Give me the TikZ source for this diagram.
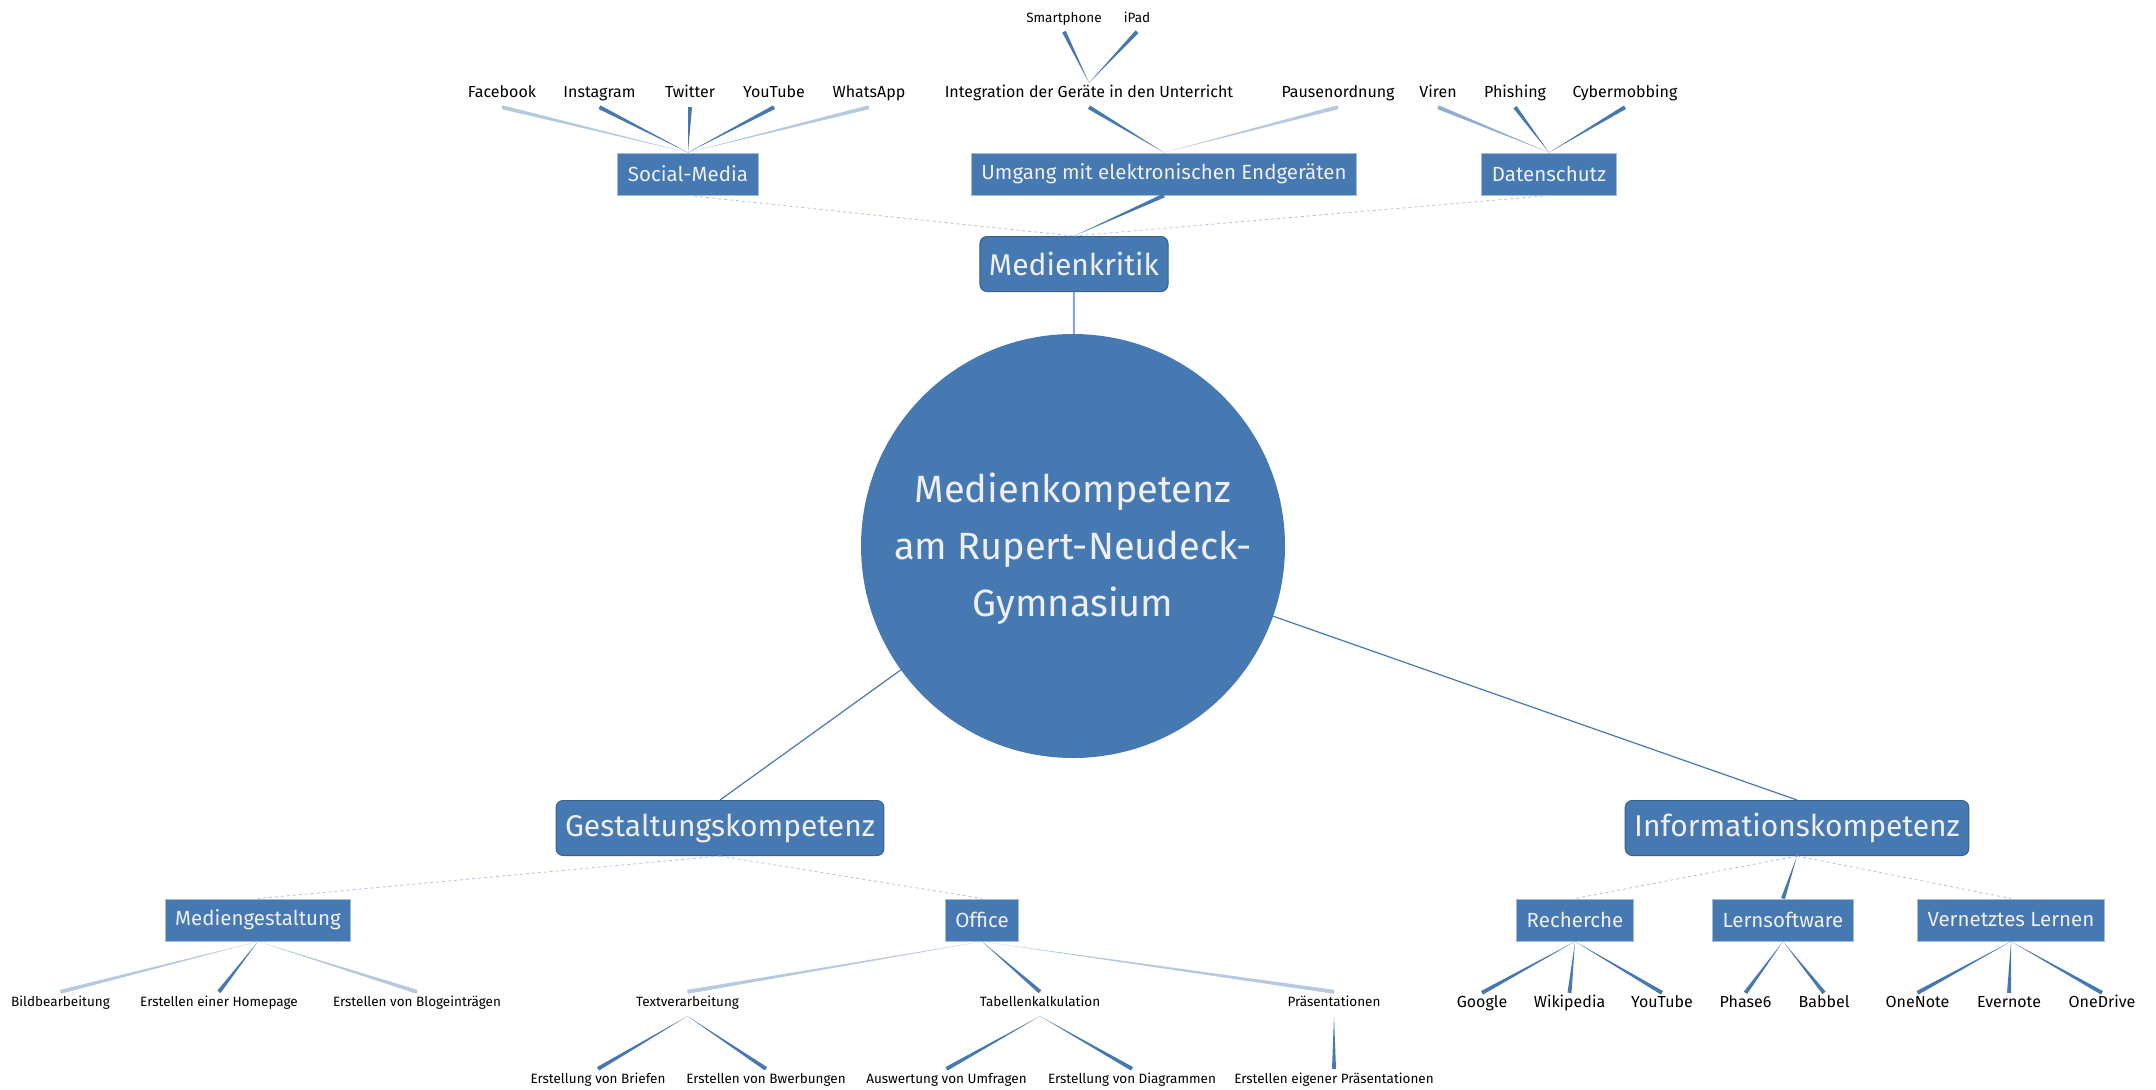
\documentclass[tikz,border=0pt]{standalone}
\usepackage{fontspec}
\setmainfont{Fira Sans}
\usetikzlibrary{calc}

\definecolor{medblue}{HTML}{4679B1}
\definecolor{boxtext}{HTML}{EEEEEE}

\newcommand{\twig}[3][medblue]{\fill[#1] ($(#2)!2pt!90:(#3)$) -- ($(#2)!2pt!-90:(#3)$) -- (#3) -- cycle;}
\newcommand{\fadeline}[2]{\draw[medblue!45,dashed,line width=0.8pt] (#1) -- (#2);}

\begin{document}
\begin{tikzpicture}[x=1pt,y=-1pt,
	hub/.style={circle,fill=medblue,text=boxtext,minimum size=424pt,inner sep=0pt,align=center,font=\fontsize{38}{57}\selectfont},
	topic/.style={rectangle,rounded corners=7pt,fill=medblue,draw=medblue!80!black,line width=1pt,text=boxtext,minimum height=55pt,inner xsep=9pt,font=\fontsize{30}{32}\selectfont},
	subbox/.style={rectangle,fill=medblue,draw=medblue!50!white,line width=1pt,text=boxtext,minimum height=42pt,inner xsep=10pt,font=\fontsize{20.5}{24}\selectfont},
	bigleaf/.style={inner sep=7pt,yshift=-3pt,text height=0.75em,text depth=0.25em,font=\fontsize{16}{18}\selectfont},
	smallleaf/.style={inner sep=7pt,yshift=-3pt,text height=0.75em,text depth=0.25em,font=\fontsize{13.5}{15}\selectfont},
	spoke/.style={medblue,line width=1.2pt},
	stem/.style={medblue!65,line width=2pt}
]

	\useasboundingbox (0,0) rectangle (2156,1090);

	\node[hub] (hub) at (1073,546) {\rule{0pt}{36pt}Medienkompetenz\\am Rupert-Neudeck-\\Gymnasium};

	\node[topic] (kritik) at (1074,264) {Medienkritik};
	\node[topic] (gestalt) at (720,828) {Gestaltungskompetenz};
	\node[topic] (info) at (1797,828) {Informationskompetenz};

	\node[subbox] (social) at (688,174) {Social-Media};
	\node[subbox] (umgang) at (1164,174) {Umgang mit elektronischen Endgeräten};
	\node[subbox] (daten) at (1549,174) {Datenschutz};
	\node[subbox] (medgest) at (258,920) {Mediengestaltung};
	\node[subbox] (office) at (982,920) {Office};
	\node[subbox] (recherche) at (1575,920) {Recherche};
	\node[subbox] (lernsw) at (1783,920) {Lernsoftware};
	\node[subbox] (vernetzt) at (2011,920) {Vernetztes Lernen};

	\node[smallleaf] (smartphone) at (1064,16.5) {Smartphone};
	\node[smallleaf] (ipad) at (1137,16.5) {iPad};

	\node[bigleaf] (facebook) at (502,92) {Facebook};
	\node[bigleaf] (instagram) at (599.5,92) {Instagram};
	\node[bigleaf] (twitter) at (690,92) {Twitter};
	\node[bigleaf] (youtubeA) at (774,92) {YouTube};
	\node[bigleaf] (whatsapp) at (869,92) {WhatsApp};
	\node[bigleaf] (integration) at (1089,92) {Integration der Geräte in den Unterricht};
	\node[bigleaf] (pausen) at (1338,92) {Pausenordnung};
	\node[bigleaf] (viren) at (1438,92) {Viren};
	\node[bigleaf] (phishing) at (1515,92) {Phishing};
	\node[bigleaf] (cyber) at (1625,92) {Cybermobbing};

	\node[smallleaf] (bild) at (60.5,1001) {Bildbearbeitung};
	\node[smallleaf] (homepage) at (219,1001) {Erstellen einer Homepage};
	\node[smallleaf] (blog) at (417,1001) {Erstellen von Blogeinträgen};
	\node[smallleaf] (textv) at (687.5,1001) {Textverarbeitung};
	\node[smallleaf] (tabellen) at (1040,1001) {Tabellenkalkulation};
	\node[smallleaf] (praes) at (1334,1001) {Präsentationen};

	\node[smallleaf] (briefe) at (598,1078) {Erstellung von Briefen};
	\node[smallleaf] (bewerb) at (766,1078) {Erstellen von Bwerbungen};
	\node[smallleaf] (umfragen) at (946.5,1078) {Auswertung von Umfragen};
	\node[smallleaf] (diagramme) at (1132,1078) {Erstellung von Diagrammen};
	\node[smallleaf] (eigene) at (1334,1078) {Erstellen eigener Präsentationen};

	\node[bigleaf] (google) at (1482,1002) {Google};
	\node[bigleaf] (wikipedia) at (1569.5,1002) {Wikipedia};
	\node[bigleaf] (youtubeB) at (1662,1002) {YouTube};
	\node[bigleaf] (phase) at (1745.5,1002) {Phase6};
	\node[bigleaf] (babbel) at (1824,1002) {Babbel};
	\node[bigleaf] (onenote) at (1917.5,1002) {OneNote};
	\node[bigleaf] (evernote) at (2009,1002) {Evernote};
	\node[bigleaf] (onedrive) at (2102,1002) {OneDrive};

	\twig[medblue!40]{facebook.south}{social.north}
	\twig{instagram.south}{social.north}
	\twig{twitter.south}{social.north}
	\twig{youtubeA.south}{social.north}
	\twig[medblue!40]{whatsapp.south}{social.north}
	\twig{integration.south}{umgang.north}
	\twig[medblue!40]{pausen.south}{umgang.north}
	\twig{smartphone.south}{integration.north}
	\twig{ipad.south}{integration.north}
	\twig[medblue!60]{viren.south}{daten.north}
	\twig{phishing.south}{daten.north}
	\twig{cyber.south}{daten.north}

	\fadeline{social.south}{kritik.north}
	\twig{umgang.south}{kritik.north}
	\fadeline{daten.south}{kritik.north}
	\draw[stem] (kritik) -- (hub);
	\draw[spoke] (hub) -- (gestalt.north);
	\draw[spoke] (hub) -- (info.north);

	\fadeline{gestalt.south}{medgest.north}
	\fadeline{gestalt.south}{office.north}
	\twig[medblue!40]{bild.north}{medgest.south}
	\twig{homepage.north}{medgest.south}
	\twig[medblue!40]{blog.north}{medgest.south}
	\twig[medblue!40]{textv.north}{office.south}
	\twig{tabellen.north}{office.south}
	\twig[medblue!40]{praes.north}{office.south}
	\twig{briefe.north}{textv.south}
	\twig{bewerb.north}{textv.south}
	\twig{umfragen.north}{tabellen.south}
	\twig{diagramme.north}{tabellen.south}
	\twig{eigene.north}{praes.south}

	\fadeline{info.south}{recherche.north}
	\twig{lernsw.north}{info.south}
	\fadeline{info.south}{vernetzt.north}
	\twig{google.north}{recherche.south}
	\twig{wikipedia.north}{recherche.south}
	\twig{youtubeB.north}{recherche.south}
	\twig{phase.north}{lernsw.south}
	\twig{babbel.north}{lernsw.south}
	\twig{onenote.north}{vernetzt.south}
	\twig{evernote.north}{vernetzt.south}
	\twig{onedrive.north}{vernetzt.south}

\end{tikzpicture}
\end{document}
